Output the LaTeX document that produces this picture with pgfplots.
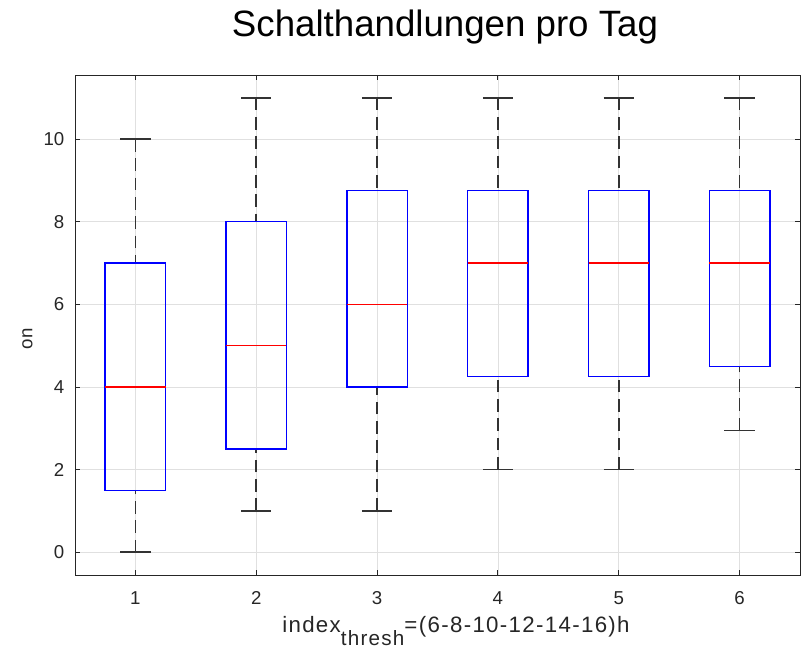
\documentclass[border=0pt]{standalone}
\usepackage{fontspec}
\setmainfont{Liberation Sans}
\usepackage{pgfplots}
\pgfplotsset{compat=1.18}
\usepgfplotslibrary{statistics}
\definecolor{axgray}{rgb}{0.15,0.15,0.15}
\definecolor{mblue}{rgb}{0,0,1}
\definecolor{mred}{rgb}{1,0,0}
\definecolor{wgray}{rgb}{0.2,0.2,0.2}
\begin{document}
\begin{tikzpicture}
\useasboundingbox (0,0) rectangle (604.5pt,-486.75pt);
\begin{axis}[
  at={(56.25pt,-56.25pt)}, anchor=north west,
  scale only axis, width=543.75pt, height=375pt,
  xmin=0.5, xmax=6.5, ymin=-0.55, ymax=11.55,
  xtick={1,2,3,4,5,6}, ytick={0,2,4,6,8,10},
  xtick pos=both, ytick pos=both, tick align=inside,
  major tick length=4pt,
  grid=major,
  major grid style={line width=0.6pt, draw=black!12},
  axis line style={axgray, line width=0.65pt},
  tick style={axgray, line width=0.65pt},
  ticklabel style={font=\fontsize{14}{16}\selectfont, text=axgray},
  xticklabel style={yshift=-9pt},
  yticklabel style={xshift=-4.5pt},
  /pgf/number format/assume math mode=true,
  boxplot/draw direction=y,
  boxplot/box extend=0.5,
  boxplot/whisker extend=0.25,
  boxplot/every box/.style={draw=mblue, line width=1.15pt},
  boxplot/every median/.style={draw=mred, line width=1.1pt},
  boxplot/draw/lower whisker/.code={%
    \draw[wgray, line width=1.3pt, dash pattern=on 9.5pt off 5pt]
      (boxplot cs:\pgfplotsboxplotvalue{lower whisker}) -- (boxplot cs:\pgfplotsboxplotvalue{lower quartile});
    \draw[wgray, line width=1.3pt]
      (boxplot whisker cs:\pgfplotsboxplotvalue{lower whisker},0) -- (boxplot whisker cs:\pgfplotsboxplotvalue{lower whisker},1);
  },
  boxplot/draw/upper whisker/.code={%
    \draw[wgray, line width=1.3pt, dash pattern=on 9.5pt off 5pt]
      (boxplot cs:\pgfplotsboxplotvalue{upper whisker}) -- (boxplot cs:\pgfplotsboxplotvalue{upper quartile});
    \draw[wgray, line width=1.3pt]
      (boxplot whisker cs:\pgfplotsboxplotvalue{upper whisker},0) -- (boxplot whisker cs:\pgfplotsboxplotvalue{upper whisker},1);
  },
]
\addplot[boxplot prepared={draw position=1, lower whisker=0, lower quartile=1.5, median=4, upper quartile=7, upper whisker=10}] coordinates {};
\addplot[boxplot prepared={draw position=2, lower whisker=1, lower quartile=2.5, median=5, upper quartile=8, upper whisker=11}] coordinates {};
\addplot[boxplot prepared={draw position=3, lower whisker=1, lower quartile=4, median=6, upper quartile=8.75, upper whisker=11}] coordinates {};
\addplot[boxplot prepared={draw position=4, lower whisker=2, lower quartile=4.25, median=7, upper quartile=8.75, upper whisker=11}] coordinates {};
\addplot[boxplot prepared={draw position=5, lower whisker=2, lower quartile=4.25, median=7, upper quartile=8.75, upper whisker=11}] coordinates {};
\addplot[boxplot prepared={draw position=6, lower whisker=2.95, lower quartile=4.5, median=7, upper quartile=8.75, upper whisker=11}] coordinates {};
\end{axis}
\node[anchor=base, font=\fontsize{27.5}{33}\selectfont, text=black] at (333.75pt,-27.75pt) {Schalthandlungen pro Tag};
\node[anchor=base west, inner sep=0pt, font=\fontsize{16.7}{19}\selectfont\addfontfeature{LetterSpace=6}, text=axgray] at (211.5pt,-474pt)
  {index\raisebox{-10pt}{\fontsize{15.5}{17}\selectfont thresh}=(6-8-10-12-14-16)h};
\node[anchor=center, rotate=90, inner sep=0pt, font=\fontsize{14}{17}\selectfont, text=axgray] at (20.6pt,-254pt) {on};
\end{tikzpicture}
\end{document}
